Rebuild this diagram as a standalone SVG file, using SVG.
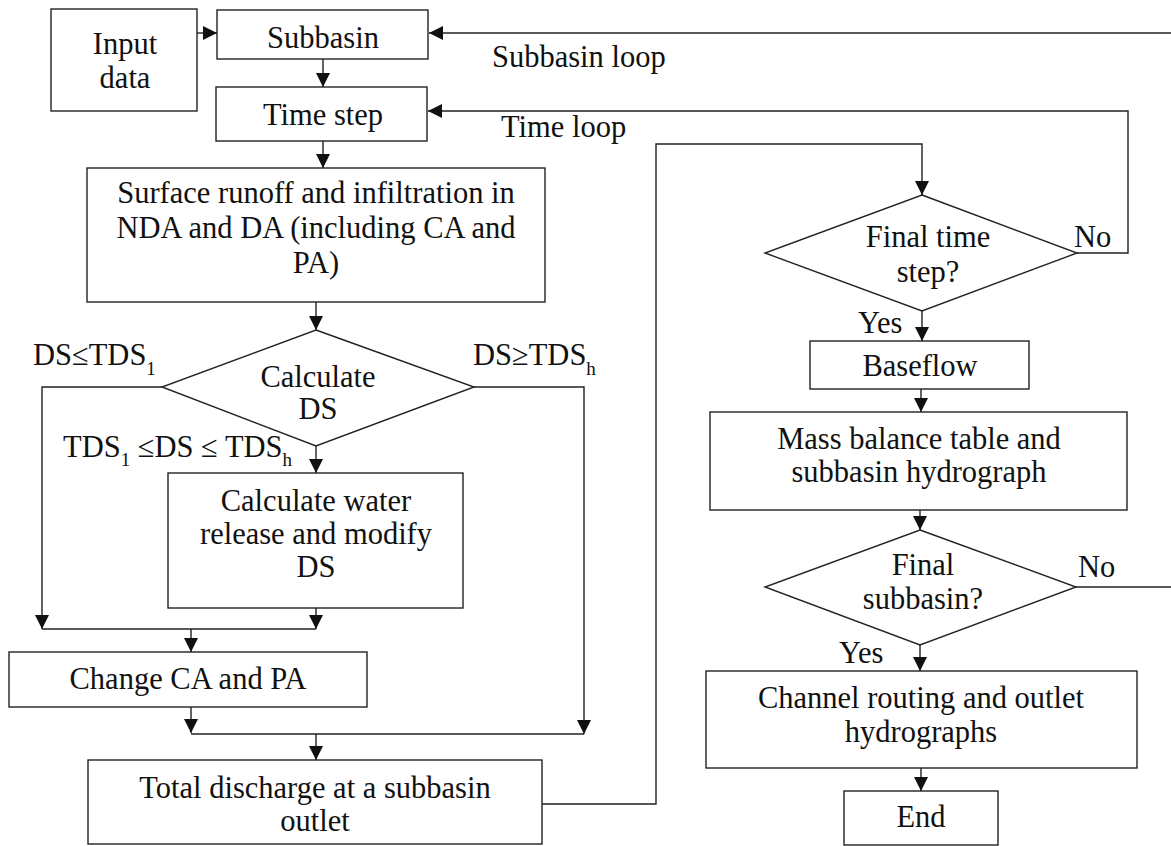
<svg xmlns="http://www.w3.org/2000/svg" width="1171" height="846" viewBox="0 0 1171 846" font-family="'Liberation Serif', 'Times New Roman', 'DejaVu Serif', serif">
  <defs>
    <marker id="arrow" markerUnits="userSpaceOnUse" markerWidth="14" markerHeight="14" refX="14" refY="7" orient="auto" viewBox="0 0 14 14">
      <path d="M0,0 L14,7 L0,14 z" fill="#111"/>
    </marker>
    <style>
      .box{fill:#fff;stroke:#222;stroke-width:1.4}
      .wire{fill:none;stroke:#222;stroke-width:1.4}
      .arr{marker-end:url(#arrow)}
      text{font-family:'Liberation Serif','Times New Roman','DejaVu Serif',serif;font-size:30.5px;fill:#111}
      .c{text-anchor:middle}
      .sub{font-size:19px}
    </style>
  </defs>
  <rect width="1171" height="846" fill="#fff"/>

  <!-- connectors -->
  <g id="connectors">
    <path class="wire arr" d="M197,33 H217"/>
    <path class="wire arr" d="M323,59 V87"/>
    <path class="wire arr" d="M323,141 V168"/>
    <path class="wire arr" d="M1171,33 H429"/>
    <path class="wire arr" d="M1077,253 H1128 V111 H428"/>
    <path class="wire arr" d="M316,302 V330"/>
    <path class="wire arr" d="M162,387 H42 V629"/>
    <path class="wire arr" d="M474,387 H584 V734"/>
    <path class="wire arr" d="M316,446 V473"/>
    <path class="wire arr" d="M316,608 V629"/>
    <path class="wire" d="M42,629 H316"/>
    <path class="wire arr" d="M191,629 V652"/>
    <path class="wire arr" d="M191,707 V733"/>
    <path class="wire" d="M191,734 H584"/>
    <path class="wire arr" d="M316,734 V760"/>
    <path class="wire arr" d="M542,804 H656 V144 H922 V195"/>
    <path class="wire arr" d="M922,311 V341"/>
    <path class="wire arr" d="M921,389 V412"/>
    <path class="wire arr" d="M920,510 V530"/>
    <path class="wire" d="M1076,587 H1171"/>
    <path class="wire arr" d="M920,645 V671"/>
    <path class="wire arr" d="M921,768 V791"/>
  </g>

  <!-- connector labels -->
  <g id="labels">
    <text x="492" y="67">Subbasin loop</text>
    <text x="501" y="137">Time loop</text>
    <text x="33" y="365">DS≤TDS<tspan class="sub" dy="10">1</tspan></text>
    <text x="473" y="365">DS≥TDS<tspan class="sub" dy="10">h</tspan></text>
    <text x="63" y="457">TDS<tspan class="sub" dy="9">1</tspan><tspan dy="-9"> ≤DS ≤ TDS</tspan><tspan class="sub" dy="9">h</tspan></text>
    <text x="1074" y="247">No</text>
    <text x="858" y="333">Yes</text>
    <text x="1078" y="577">No</text>
    <text x="839" y="663">Yes</text>
  </g>

  <g id="input-data">
    <rect class="box" x="51" y="9" width="146" height="102"/>
    <text class="c" x="125" y="54">Input</text>
    <text class="c" x="125" y="88">data</text>
  </g>

  <g id="subbasin">
    <rect class="box" x="217" y="10" width="211" height="49"/>
    <text class="c" x="323" y="48">Subbasin</text>
  </g>

  <g id="time-step">
    <rect class="box" x="216" y="87" width="211" height="54"/>
    <text class="c" x="323" y="125">Time step</text>
  </g>

  <g id="surface-runoff">
    <rect class="box" x="87" y="168" width="458" height="134"/>
    <text class="c" x="316" y="203">Surface runoff and infiltration in</text>
    <text class="c" x="316" y="238">NDA and DA (including CA and</text>
    <text class="c" x="316" y="273">PA)</text>
  </g>

  <g id="calculate-ds">
    <polygon class="box" points="316,330 474,387 316,446 162,387"/>
    <text class="c" x="318" y="387">Calculate</text>
    <text class="c" x="318" y="419">DS</text>
  </g>

  <g id="water-release">
    <rect class="box" x="168" y="473" width="295" height="135"/>
    <text class="c" x="316" y="511">Calculate water</text>
    <text class="c" x="316" y="544">release and modify</text>
    <text class="c" x="316" y="577">DS</text>
  </g>

  <g id="change-ca-pa">
    <rect class="box" x="9" y="652" width="358" height="55"/>
    <text class="c" x="188" y="689">Change CA and PA</text>
  </g>

  <g id="total-discharge">
    <rect class="box" x="88" y="760" width="454" height="84"/>
    <text class="c" x="315" y="798">Total discharge at a subbasin</text>
    <text class="c" x="315" y="831">outlet</text>
  </g>

  <g id="final-time-step">
    <polygon class="box" points="922,195 1077,253 922,311 765,253"/>
    <text class="c" x="928" y="247">Final time</text>
    <text class="c" x="928" y="282">step?</text>
  </g>

  <g id="baseflow">
    <rect class="box" x="810" y="341" width="219" height="48"/>
    <text class="c" x="920" y="376">Baseflow</text>
  </g>

  <g id="mass-balance">
    <rect class="box" x="710" y="412" width="417" height="98"/>
    <text class="c" x="919" y="449">Mass balance table and</text>
    <text class="c" x="919" y="482">subbasin hydrograph</text>
  </g>

  <g id="final-subbasin">
    <polygon class="box" points="920,530 1076,587 920,645 765,587"/>
    <text class="c" x="923" y="575">Final</text>
    <text class="c" x="923" y="609">subbasin?</text>
  </g>

  <g id="channel-routing">
    <rect class="box" x="706" y="671" width="431" height="97"/>
    <text class="c" x="921" y="708">Channel routing and outlet</text>
    <text class="c" x="921" y="742">hydrographs</text>
  </g>

  <g id="end">
    <rect class="box" x="844" y="791" width="154" height="54"/>
    <text class="c" x="921" y="827">End</text>
  </g>
</svg>
